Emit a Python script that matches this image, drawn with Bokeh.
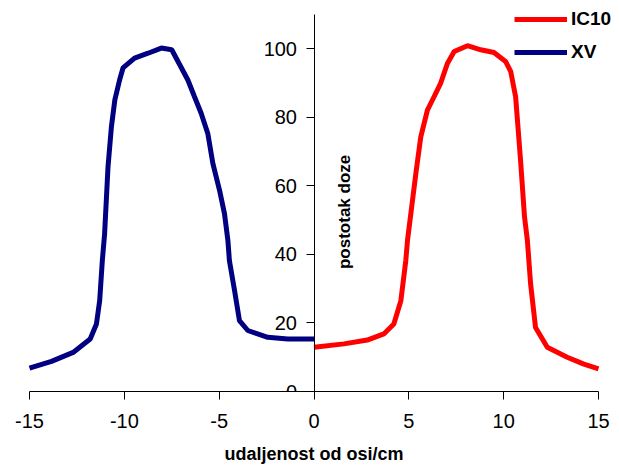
import math
from bokeh.plotting import figure
from bokeh.models import LinearAxis, Range1d, Label, Legend, LegendItem, FixedTicker
from bokeh.embed import file_html
from bokeh.resources import INLINE

# ---- data ----
xv_x = [-15.0, -13.84, -12.7, -11.8, -11.47, -11.3, -11.16, -11.04, -10.86, -10.68, -10.5,
        -10.25, -10.07, -9.46, -8.75, -8.05, -7.5, -7.17, -6.65, -6.3, -5.95, -5.6, -5.33,
        -4.98, -4.72, -4.54, -4.46, -4.19, -3.93, -3.49, -2.44, -1.38, 0.0]
xv_y = [6.8, 8.8, 11.4, 15.3, 19.7, 26.5, 38.2, 46.0, 65.6, 77.3, 85.1,
        90.9, 94.4, 97.3, 98.7, 100.2, 99.7, 96.3, 90.9, 86.0, 81.2, 75.3, 66.5,
        58.7, 51.9, 44.1, 38.2, 29.5, 20.7, 17.8, 15.8, 15.3, 15.3]

ic10_x = [0.0, 1.58, 2.81, 3.68, 4.21, 4.58, 4.84, 4.93, 5.37, 5.63, 5.98, 6.33, 6.68,
          7.04, 7.39, 8.09, 8.79, 9.49, 10.1, 10.37, 10.63, 10.89, 11.1, 11.25, 11.42,
          11.68, 12.3, 13.35, 14.23, 15.0]
ic10_y = [12.9, 13.9, 15.0, 16.8, 19.7, 26.5, 38.2, 44.1, 63.6, 74.3, 82.1, 86.0, 90.0,
          95.8, 99.2, 100.9, 99.7, 98.9, 96.3, 93.4, 86.0, 67.5, 50.9, 44.1, 31.4,
          18.7, 12.9, 10.0, 8.0, 6.6]

x_ticks = [-15, -10, -5, 0, 5, 10, 15]
x_tick_labels = ["-15", "-10", "-5", "0", "5", "10", "15"]
y_ticks = [0, 20, 40, 60, 80, 100]
y_tick_labels = ["0", "20", "40", "60", "80", "100"]
x_min, x_max = -15, 15
y_min, y_max = 0, 110

series_names = ["IC10", "XV"]
x_title = "udaljenost od osi/cm"
y_title = "postotak doze"

FONT = "Liberation Sans"

# frame extends symmetrically beyond the data extents so the legend is not clipped
# and the x-axis title stays centred on x = 0; the axes are bounded to the data extents
p = figure(width=619, height=472, output_backend="svg", toolbar_location=None,
           x_range=Range1d(-16.107, 16.107), y_range=Range1d(y_min, 114.085),
           x_axis_location=None, y_axis_location=None,
           min_border_left=8, min_border_right=0, min_border_top=0, min_border_bottom=81)
p.outline_line_color = None
p.xgrid.visible = False
p.ygrid.visible = False
p.background_fill_color = "white"
p.border_fill_color = "white"

# x axis
xa = LinearAxis(ticker=FixedTicker(ticks=x_ticks), bounds=(x_min, x_max),
                major_label_overrides={t: l for t, l in zip(x_ticks, x_tick_labels)})
xa.axis_label = x_title
xa.axis_label_text_font = FONT
xa.axis_label_text_font_style = "bold"
xa.axis_label_text_font_size = "18px"
xa.axis_label_text_color = "black"
xa.axis_label_standoff = 13
xa.major_label_text_font = FONT
xa.major_label_text_font_size = "20px"
xa.major_label_text_color = "black"
xa.major_label_standoff = 14
xa.major_tick_in = 0
xa.major_tick_out = 8
xa.minor_tick_line_color = None
xa.axis_line_color = "black"
xa.major_tick_line_color = "black"
p.add_layout(xa, "below")

# y axis positioned at x = 0
ya = LinearAxis(ticker=FixedTicker(ticks=y_ticks), bounds=(y_min, y_max),
                major_label_overrides={t: l for t, l in zip(y_ticks, y_tick_labels)})
ya.fixed_location = 0
ya.major_label_text_font = FONT
ya.major_label_text_font_size = "20px"
ya.major_label_text_color = "black"
ya.major_label_standoff = 9
ya.major_tick_in = 0
ya.major_tick_out = 8
ya.minor_tick_line_color = None
ya.axis_line_color = "black"
ya.major_tick_line_color = "black"
p.add_layout(ya, "left")

r_xv = p.line(xv_x, xv_y, line_color="#000080", line_width=5)
r_ic = p.line(ic10_x, ic10_y, line_color="#FF0000", line_width=5)

p.add_layout(Label(x=1.6, y=52.4, text=y_title, angle=math.pi / 2,
                   text_align="center", text_baseline="middle", text_color="black",
                   text_font=FONT, text_font_style="bold", text_font_size="17px"))

legend = Legend(items=[LegendItem(label=series_names[0], renderers=[r_ic]),
                       LegendItem(label=series_names[1], renderers=[r_xv])],
                location=(506, 328), orientation="vertical",
                padding=0, margin=0, spacing=11,
                glyph_width=53, glyph_height=20, label_height=20, label_standoff=4,
                label_text_font=FONT, label_text_font_style="bold", label_text_font_size="19px",
                label_text_color="black",
                border_line_alpha=0, background_fill_alpha=0)
p.add_layout(legend, "center")

open("out.html", "w").write(file_html(p, INLINE))
